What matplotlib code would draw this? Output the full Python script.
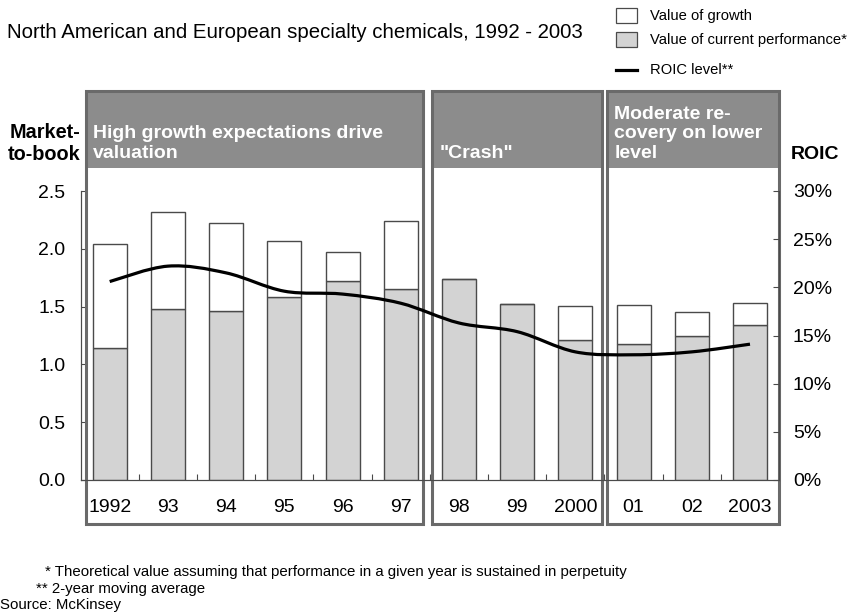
import matplotlib
matplotlib.use("Agg")
import matplotlib.pyplot as plt
from matplotlib.patches import Rectangle, PathPatch
from matplotlib.path import Path
from matplotlib.lines import Line2D
import matplotlib.transforms as mtransforms
import numpy as np

plt.rcParams['font.family'] = ['Liberation Sans', 'DejaVu Sans']

# ---------------- data ----------------
years = ["1992", "93", "94", "95", "96", "97", "98", "99", "2000", "01", "02", "2003"]
current_perf = [1.14, 1.48, 1.46, 1.585, 1.72, 1.655, 1.735, 1.52, 1.215, 1.175, 1.25, 1.34]
total_value = [2.04, 2.32, 2.22, 2.07, 1.97, 2.24, 1.735, 1.52, 1.505, 1.51, 1.455, 1.53]
roic = [20.6, 22.2, 21.5, 19.6, 19.3, 18.35, 16.3, 15.4, 13.3, 13.0, 13.3, 14.1]

left_ticks = [0.0, 0.5, 1.0, 1.5, 2.0, 2.5]
right_ticks = [0, 5, 10, 15, 20, 25, 30]

phase_labels = ["High growth expectations drive\nvaluation", "\"Crash\"",
                "Moderate re-\ncovery on lower\nlevel"]
phase_spans = [(-0.41, 5.39), (5.54, 8.45), (8.55, 11.49)]

title = "North American and European specialty chemicals, 1992 - 2003"
legend_labels = ["Value of growth", "Value of current performance*", "ROIC level**"]
footnotes = ["* Theoretical value assuming that performance in a given year is sustained in perpetuity",
             "** 2-year moving average",
             "Source: McKinsey"]

# ---------------- figure ----------------
W, H = 856, 614
fig = plt.figure(figsize=(W / 100, H / 100), dpi=100)
ax_l, ax_r, ax_b, ax_t = 80.6, 779.1, 480, 191
ax = fig.add_axes([ax_l / W, 1 - ax_b / H, (ax_r - ax_l) / W, (ax_b - ax_t) / H])
ax2 = ax.twinx()

x = np.arange(len(years))
growth = [t - c for t, c in zip(total_value, current_perf)]
edge = "#4a4a4a"
ax.bar(x, current_perf, width=0.585, color="#d3d3d3", edgecolor=edge, linewidth=1.0, zorder=3)
ax.bar(x, growth, bottom=current_perf, width=0.585, color="white", edgecolor=edge,
       linewidth=1.0, zorder=3)

ax.set_xlim(-0.5, len(years) - 0.5)
ax.set_ylim(0, 2.5)
ax2.set_ylim(0, 30)

ax.set_yticks(left_ticks)
ax.set_yticklabels([f"{v:.1f}" for v in left_ticks])
ax2.set_yticks(right_ticks)
ax2.set_yticklabels([f"{v}%" for v in right_ticks])

fs_tick = 14
ax.set_xticks(x)
ax.set_xticklabels(years)
ax.set_xticks(x[:-1] + 0.5, minor=True)
ax.tick_params(axis='x', which='major', length=0, pad=13.5, labelsize=fs_tick)
ax.tick_params(axis='x', which='minor', direction='in', length=4, width=0.8, color=edge)
ax.tick_params(axis='y', which='major', direction='in', length=4, width=0.8, color=edge,
               pad=11, labelsize=fs_tick)
ax2.tick_params(axis='y', which='major', direction='in', length=4, width=0.8, color=edge,
                pad=10, labelsize=fs_tick)

for a in (ax, ax2):
    a.spines['top'].set_visible(False)
    for s in ('left', 'right', 'bottom'):
        a.spines[s].set_color(edge)
        a.spines[s].set_linewidth(0.8)
ax.patch.set_visible(False)

# ROIC smooth curve (Catmull-Rom through the data points, drawn as Bezier path)
pts = np.column_stack([x, roic]).astype(float)
verts = [tuple(pts[0])]
codes = [Path.MOVETO]
n = len(pts)
for i in range(n - 1):
    p0 = pts[max(i - 1, 0)]
    p1 = pts[i]
    p2 = pts[i + 1]
    p3 = pts[min(i + 2, n - 1)]
    c1 = p1 + (p2 - p0) / 6.0
    c2 = p2 - (p3 - p1) / 6.0
    verts += [tuple(c1), tuple(c2), tuple(p2)]
    codes += [Path.CURVE4] * 3
ax2.add_patch(PathPatch(Path(verts, codes), facecolor='none', edgecolor='black',
                        linewidth=2.3, zorder=6, capstyle='butt'))

# phase boxes
def py2d(py):
    return (ax_b - py) / (ax_b - ax_t) * 2.5

box_top, head_bot, box_bot = py2d(91.5), py2d(168), py2d(524)
box_col = "#6a6a6a"
head_col = "#8c8c8c"
for (x0, x1), lab in zip(phase_spans, phase_labels):
    ax.add_patch(Rectangle((x0, head_bot), x1 - x0, box_top - head_bot, facecolor=head_col,
                           edgecolor='none', clip_on=False, zorder=1))
    ax.add_patch(Rectangle((x0, box_bot), x1 - x0, box_top - box_bot, facecolor='none',
                           edgecolor=box_col, linewidth=2.2, clip_on=False, zorder=7))
    off = mtransforms.offset_copy(ax.transData, fig=fig, x=7, y=6, units='dots')
    ax.text(x0, head_bot, lab, transform=off, ha='left', va='bottom', color='white',
            fontsize=14, fontweight='bold', linespacing=1.2, zorder=8)

# axis titles
fig.text(80 / W, 1 - 164 / H, "Market-\nto-book", ha='right', va='bottom', fontsize=14.3,
         fontweight='bold', linespacing=1.2)
fig.text(791 / W, 1 - 163 / H, "ROIC", ha='left', va='bottom', fontsize=14, fontweight='bold')

# title
fig.text(7 / W, 1 - 33 / H, title, ha='left', va='center', fontsize=14.7)

# legend (manual)
lx0, lx1 = 616, 637
fig.patches.append(Rectangle((lx0 / W, 1 - 23 / H), (lx1 - lx0) / W, 15 / H, facecolor='white',
                             edgecolor=edge, linewidth=0.9, transform=fig.transFigure))
fig.patches.append(Rectangle((lx0 / W, 1 - 47 / H), (lx1 - lx0) / W, 15 / H, facecolor='#d3d3d3',
                             edgecolor=edge, linewidth=0.9, transform=fig.transFigure))
fig.lines.append(Line2D([lx0 / W, lx1 / W], [1 - 70 / H, 1 - 70 / H], color='black',
                        linewidth=2.3, transform=fig.transFigure))
for lab, yy in zip(legend_labels, [16, 40, 70]):
    fig.text(650 / W, 1 - yy / H, lab, ha='left', va='center', fontsize=10.6)

# footnotes
for txt, xx, yy in zip(footnotes, [45, 36, 0], [572, 589, 605]):
    fig.text(xx / W, 1 - yy / H, txt, ha='left', va='center', fontsize=10.8)

fig.savefig("out.png", dpi=100)
